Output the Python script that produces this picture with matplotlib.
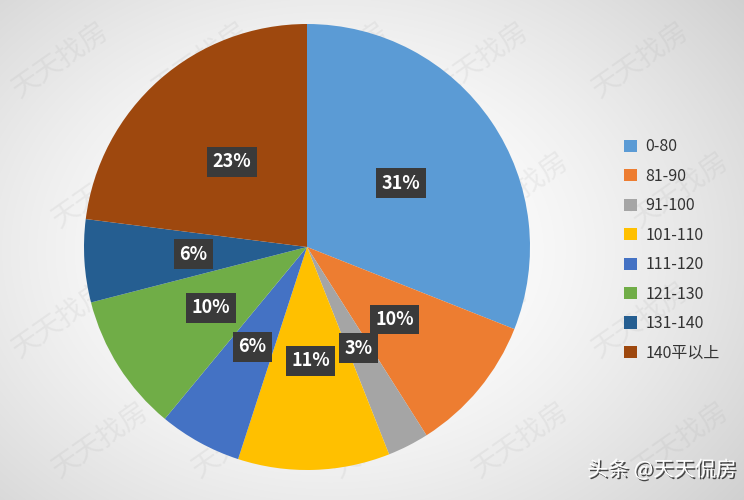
import numpy as np
import matplotlib
matplotlib.use("Agg")
import matplotlib.pyplot as plt
from matplotlib.patches import Patch
import matplotlib.patheffects as pe

plt.rcParams['font.family'] = ['Noto Sans CJK SC', 'DejaVu Sans']

categories = ['0-80', '81-90', '91-100', '101-110', '111-120', '121-130', '131-140', '140平以上']
values = [31, 10, 3, 11, 6, 10, 6, 23]
colors = ['#5B9BD5', '#ED7D31', '#A5A5A5', '#FFC000', '#4472C4', '#70AD47', '#255E91', '#9E480E']

W, H = 744, 500
fig = plt.figure(figsize=(W / 100, H / 100), dpi=100)

# background radial gradient
bg = fig.add_axes([0, 0, 1, 1], zorder=-10)
yy, xx = np.mgrid[0:H, 0:W]
cx, cy = 330, 250
d = np.sqrt(((xx - cx) / 430.0) ** 2 + ((yy - cy) / 330.0) ** 2)
val = np.clip(0.985 - 0.2 * np.clip(d - 0.35, 0, None) ** 1.3, 0.76, 1.0)
img = np.dstack([val, val, val])
bg.imshow(img, extent=[0, W, 0, H], origin='upper', aspect='auto')
bg.set_xlim(0, W)
bg.set_ylim(0, H)
bg.axis('off')

# watermarks (kept inside the frame)
for row, y0 in enumerate([60, 190, 320, 440]):
    for col, x0 in enumerate([60, 200, 340, 480, 640]):
        xo = x0 + (row % 2) * 40
        bg.text(xo, H - y0, '天天找房', fontsize=20, color='#999999', alpha=0.12,
                rotation=35, ha='center', va='center', zorder=1)

# pie
ax = fig.add_axes([84 / W, 30 / H, 446 / W, 446 / H])
wedges, texts, autotexts = ax.pie(
    values, colors=colors, startangle=90, counterclock=False,
    autopct='%1.0f%%', pctdistance=0.51, radius=1.0,
    wedgeprops=dict(edgecolor='none'),
    textprops=dict(color='white', fontsize=13, fontweight='bold'))
for t in autotexts:
    t.set_bbox(dict(boxstyle='square,pad=0.3', facecolor='#3a3a3a', edgecolor='none'))
ax.set_xlim(-1.0, 1.0)
ax.set_ylim(-1.0, 1.0)
ax.set_aspect('equal')
ax.axis('off')

# legend
handles = [Patch(facecolor=c, edgecolor='none') for c in colors]
leg = fig.legend(handles, categories, loc='center left', bbox_to_anchor=(610 / W, 250 / H),
                 frameon=False, fontsize=11.5, handlelength=0.8, handleheight=0.8,
                 handletextpad=0.5, labelspacing=0.78, labelcolor='#333333')

# signature
fig.text(662 / W, 30 / H, '头条 @天天侃房', fontsize=15, color='white', ha='center', va='center',
         path_effects=[pe.withSimplePatchShadow(offset=(1.2, -1.2), shadow_rgbFace='#333333', alpha=0.9)])

fig.savefig('out.png', dpi=100)
